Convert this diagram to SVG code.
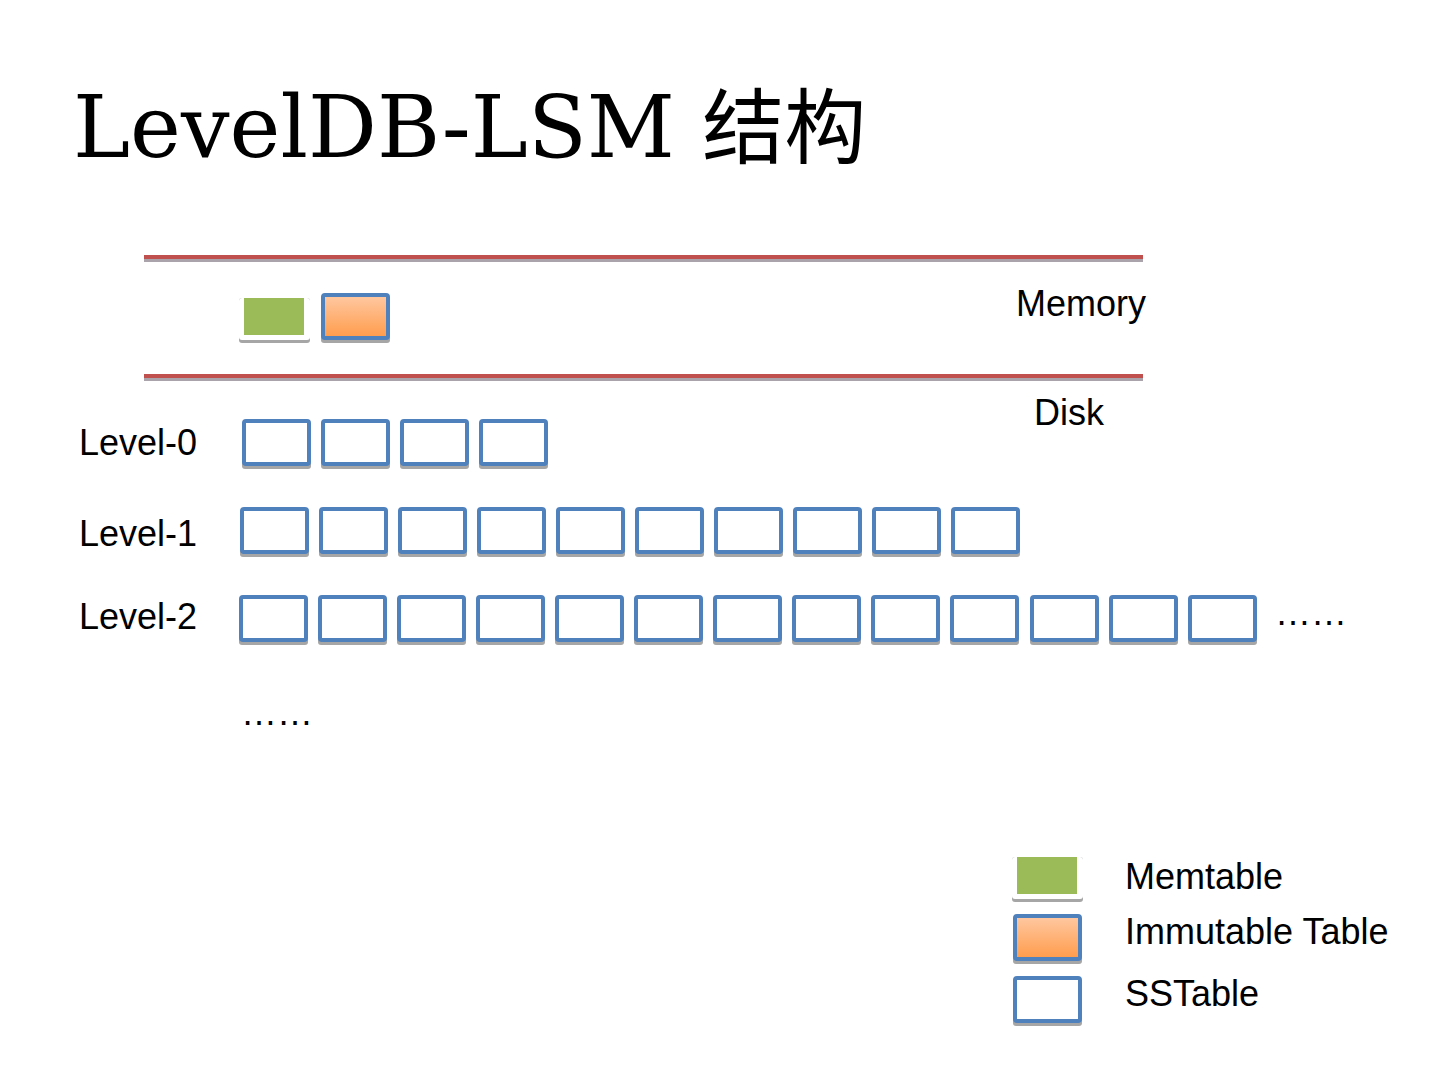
<svg xmlns="http://www.w3.org/2000/svg" width="1440" height="1080" viewBox="0 0 1440 1080">
<defs>
<linearGradient id="og" x1="0" y1="0" x2="0" y2="1">
<stop offset="0" stop-color="#FFC9A3"/>
<stop offset="1" stop-color="#FF9B4A"/>
</linearGradient>
<symbol id="ss" overflow="visible">
<rect x="0" y="3" width="69" height="47" rx="3" fill="#A6A6A6"/>
<rect x="2" y="2" width="65" height="43" rx="2" fill="#FFFFFF" stroke="#4F81BD" stroke-width="4"/>
</symbol>
<symbol id="im" overflow="visible">
<rect x="0" y="3" width="69" height="47" rx="3" fill="#A6A6A6"/>
<rect x="2" y="2" width="65" height="43" rx="2" fill="url(#og)" stroke="#4F81BD" stroke-width="4"/>
</symbol>
<symbol id="mt" overflow="visible">
<rect x="0" y="0" width="71" height="45" rx="3" fill="#A6A6A6"/>
<rect x="0" y="0" width="71" height="42" rx="3" fill="#FFFFFF"/>
<rect x="5" y="0" width="60" height="37" fill="#9BBB59"/>
</symbol>
</defs>
<style>
.t{font-family:"Liberation Sans",Arial,sans-serif;font-size:36px;fill:#000}
.ttl{font-family:"DejaVu Serif","Noto Sans CJK SC",serif;font-size:86px;fill:#000}
</style>
<rect width="1440" height="1080" fill="#FFFFFF"/>
<text class="ttl" x="73" y="157">LevelDB-LSM <tspan font-family="Noto Sans CJK SC, sans-serif" font-size="82">结构</tspan></text>

<g id="memory-bounds">
<rect x="144" y="258" width="999" height="4" fill="#ABA3AB"/>
<rect x="144" y="255" width="999" height="4" fill="#C0504D"/>
<rect x="144" y="377" width="999" height="4" fill="#ABA3AB"/>
<rect x="144" y="374" width="999" height="4" fill="#C0504D"/>
</g>
<text class="t" x="1016" y="316">Memory</text>
<text class="t" x="1034" y="425">Disk</text>

<g id="memtable"><use href="#mt" x="239" y="298"/></g>
<g id="immutable"><use href="#im" x="321" y="293"/></g>

<text class="t" x="79" y="455">Level-0</text>
<g id="level0">
<use href="#ss" x="242" y="419"/><use href="#ss" x="321" y="419"/><use href="#ss" x="400" y="419"/><use href="#ss" x="479" y="419"/>
</g>

<text class="t" x="79" y="546">Level-1</text>
<g id="level1">
<use href="#ss" x="240" y="507"/><use href="#ss" x="319" y="507"/><use href="#ss" x="398" y="507"/><use href="#ss" x="477" y="507"/><use href="#ss" x="556" y="507"/><use href="#ss" x="635" y="507"/><use href="#ss" x="714" y="507"/><use href="#ss" x="793" y="507"/><use href="#ss" x="872" y="507"/><use href="#ss" x="951" y="507"/>
</g>

<text class="t" x="79" y="629">Level-2</text>
<g id="level2">
<use href="#ss" x="239" y="595"/><use href="#ss" x="318" y="595"/><use href="#ss" x="397" y="595"/><use href="#ss" x="476" y="595"/><use href="#ss" x="555" y="595"/><use href="#ss" x="634" y="595"/><use href="#ss" x="713" y="595"/><use href="#ss" x="792" y="595"/><use href="#ss" x="871" y="595"/><use href="#ss" x="950" y="595"/><use href="#ss" x="1030" y="595"/><use href="#ss" x="1109" y="595"/><use href="#ss" x="1188" y="595"/>
</g>
<text class="t" x="1275" y="625">……</text>
<text class="t" x="241" y="725">……</text>

<g id="legend">
<use href="#mt" x="1012" y="857"/>
<use href="#im" x="1013" y="914"/>
<use href="#ss" x="1013" y="976"/>
</g>
<text class="t" x="1125" y="889">Memtable</text>
<text class="t" x="1125" y="944">Immutable Table</text>
<text class="t" x="1125" y="1006">SSTable</text>
</svg>
